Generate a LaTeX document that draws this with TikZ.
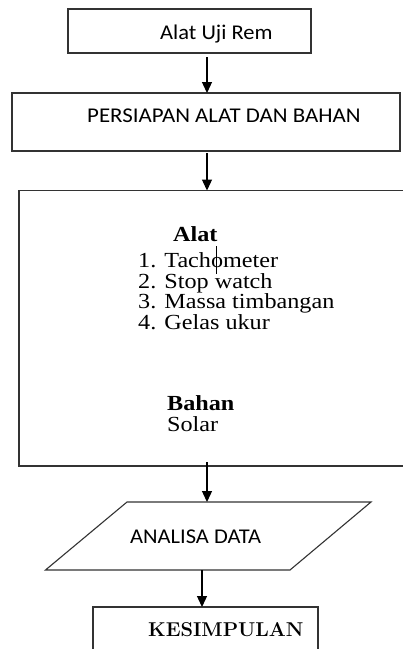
\documentclass[tikz,border=0pt]{standalone}
\usepackage{fontspec}
\usepackage{graphicx}
\usetikzlibrary{arrows.meta}
\newfontfamily\calfont[FakeStretch=1.07]{Carlito}
\newfontfamily\calwfont[FakeStretch=1.09]{Carlito}
\newfontfamily\tnrfont[FakeStretch=1.125]{Liberation Serif}
\tikzset{
  box/.style={draw=black!80, line width=1.1pt, inner sep=0pt, outer sep=0pt},
  arr/.style={draw=black, line width=1.3pt, -{Triangle[length=11pt,width=10pt]}},
  caltext/.style={anchor=base west, inner sep=0pt, font=\calfont\fontsize{21}{25}\selectfont},
  calwide/.style={anchor=base west, inner sep=0pt, font=\calwfont\fontsize{21}{25}\selectfont},
  tnrtext/.style={anchor=base west, inner sep=0pt, font=\tnrfont\fontsize{21.5}{20}\selectfont},
  tnrbold/.style={anchor=base west, inner sep=0pt, font=\tnrfont\bfseries\fontsize{21.5}{20}\selectfont},
  kestext/.style={anchor=base west, inner sep=0pt, font=\bfseries\fontsize{20}{24}\selectfont},
}
\begin{document}
\begin{tikzpicture}[x=1pt, y=-1pt]
\useasboundingbox (0,0) rectangle (403,649);
\clip (0,0) rectangle (403,649);
\fill[white] (0,0) rectangle (403,649);
% boxes
\node[box, minimum width=243, minimum height=44] (b1) at (189.5,31) {};
\node[box, minimum width=388, minimum height=58] (b2) at (206,122) {};
\node[box, minimum width=401, minimum height=275.5] (b3) at (219.5,328.25) {};
\draw[box] (127,502) -- (371,502) -- (290,570) -- (45.5,570) -- cycle;
\node[inner sep=0pt, outer sep=0pt, minimum width=325.5, minimum height=68] (pa) at (208.25,536) {};
\node[box, minimum width=225, minimum height=93] (b5) at (205.5,653.5) {};
% texts
\node[caltext] (t1) at (160,39.3) {Alat Uji Rem};
\node[calwide] (t2) at (87,122.7) {PERSIAPAN ALAT DAN BAHAN};
\node[tnrbold] (t3) at (173,241) {Alat};
\node[tnrtext] (t4) at (138,267.5) {1. Tachometer};
\node[tnrtext] (t5) at (138,288) {2. Stop watch};
\node[tnrtext] (t6) at (138,308.5) {3. Massa timbangan};
\node[tnrtext] (t7) at (138,329) {4. Gelas ukur};
\node[tnrbold] (t8) at (167,410.5) {Bahan};
\node[tnrtext] (t9) at (167,431) {Solar};
\draw[line width=0.7pt] (216,246) -- (216,274);
\node[caltext] (t10) at (130,543) {ANALISA DATA};
\node[kestext] (t11) at (148,636) {KESIMPULAN};
% connectors
\coordinate (xa) at (207,0);
\coordinate (xb) at (202,0);
\draw[arr] ([yshift=-4pt]b1.south -| xa) -- (b2.north -| xa);
\draw[arr] ([yshift=-2pt]b2.south -| xa) -- (b3.north -| xa);
\draw[arr] ([yshift=4pt]b3.south -| xa) -- (pa.north -| xa);
\draw[arr] (pa.south -| xb) -- (b5.north -| xb);
\end{tikzpicture}
\end{document}
